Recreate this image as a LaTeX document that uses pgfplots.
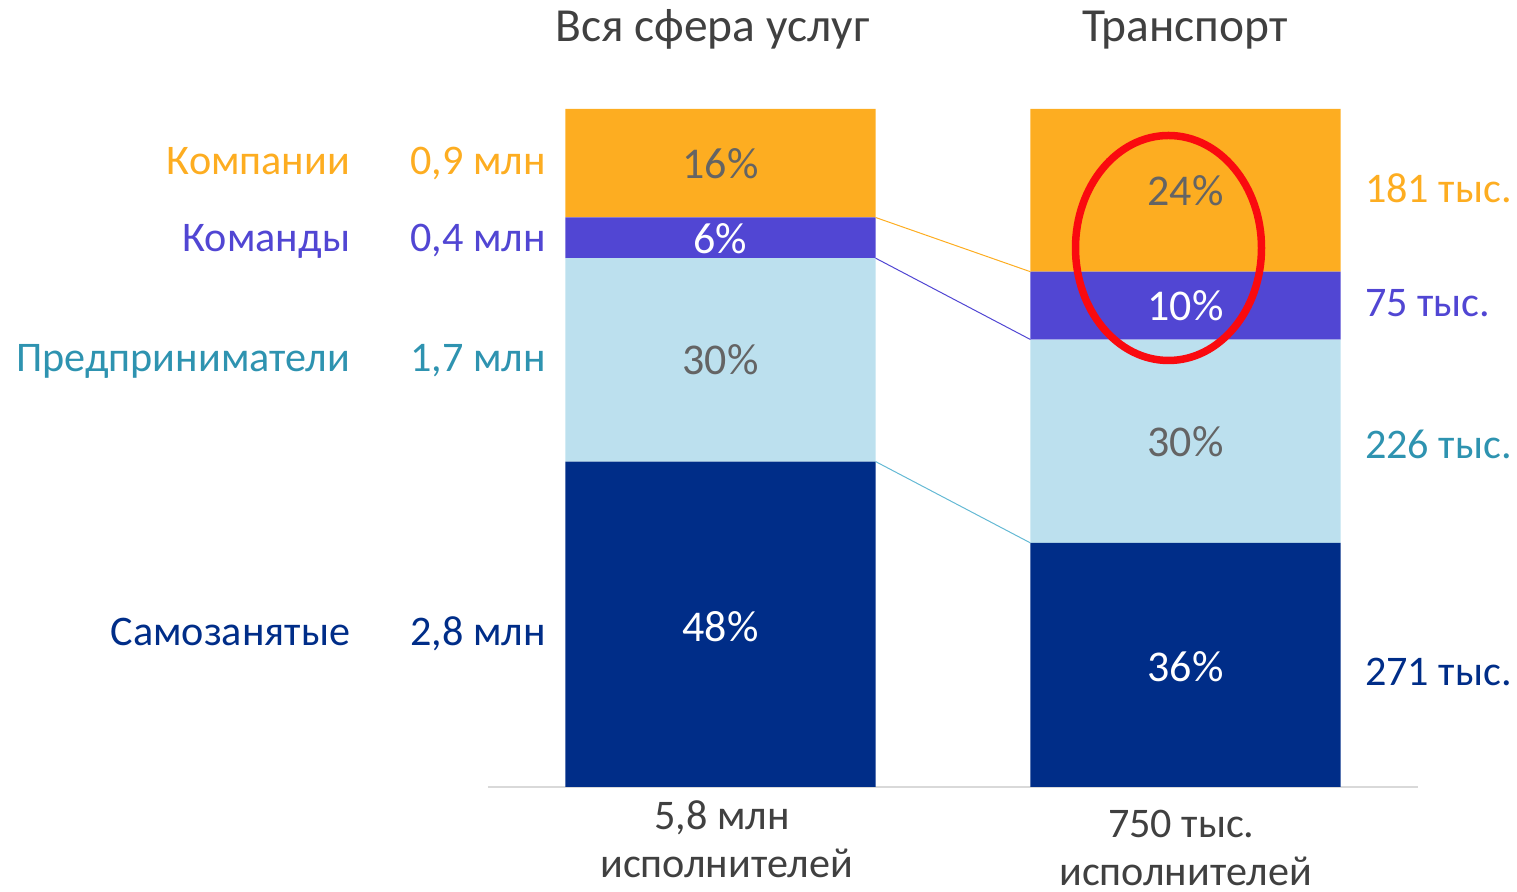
\documentclass[border=0pt]{standalone}
\usepackage{fontspec}
\setmainfont{Carlito}
\usepackage{pgfplots}
\pgfplotsset{compat=1.18}
\definecolor{corange}{RGB}{253,173,33}
\definecolor{cpurple}{RGB}{81,70,211}
\definecolor{clight}{RGB}{188,224,238}
\definecolor{cdark}{RGB}{0,45,136}
\definecolor{cteal}{RGB}{46,147,176}
\definecolor{cgraytxt}{RGB}{100,100,100}
\definecolor{ctitle}{RGB}{64,64,64}
\definecolor{cgrid}{RGB}{217,217,217}
\definecolor{cline}{RGB}{100,185,212}
\definecolor{cred}{RGB}{250,10,15}
\tikzset{
 lbl/.style={font=\fontsize{12pt}{14.4pt}\selectfont, inner sep=0pt},
 pct/.style={font=\fontsize{12.5pt}{15pt}\selectfont, anchor=base, inner sep=0pt},
 ttl/.style={font=\fontsize{13.5pt}{16pt}\selectfont, anchor=base, text=ctitle, inner sep=0pt},
}
\begin{document}
\begin{tikzpicture}
\useasboundingbox (-48.8mm,-10.5mm) rectangle (102.9mm,78.7mm);
\begin{axis}[at={(0,0)},anchor=south west,scale only axis,width=93mm,height=67.8mm,
 xmin=-0.5,xmax=1.5,ymin=0,ymax=100, ybar stacked, bar width=0.667,
 axis y line=none, axis x line=bottom, x axis line style={-,draw=cgrid,line width=0.25mm},
 xtick=\empty, ytick=\empty, clip=false,
]
\addplot[fill=cdark,draw=none] coordinates {(0,48) (1,36)};
\addplot[fill=clight,draw=none] coordinates {(0,30) (1,30)};
\addplot[fill=cpurple,draw=none] coordinates {(0,6) (1,10)};
\addplot[fill=corange,draw=none] coordinates {(0,16) (1,24)};
\end{axis}
\begin{axis}[at={(0,0)},anchor=south west,scale only axis,width=93mm,height=67.8mm,
 xmin=-0.5,xmax=1.5,ymin=0,ymax=100, hide axis, clip=false]
\addplot[corange,line width=0.1mm,mark=none] coordinates {(0.3335,84) (0.6665,76)};
\addplot[cpurple,line width=0.1mm,mark=none] coordinates {(0.3335,78) (0.6665,66)};
\addplot[cline,line width=0.1mm,mark=none] coordinates {(0.3335,48) (0.6665,36)};
% category labels
\node[lbl,anchor=base east,text=corange] at (axis cs:-0.795,90.41) {Компании};
\node[lbl,anchor=base east,text=cpurple] at (axis cs:-0.795,78.95) {Команды};
\node[lbl,anchor=base east,text=cteal] at (axis cs:-0.795,61.25) {Предприниматели};
\node[lbl,anchor=base east,text=cdark] at (axis cs:-0.795,20.94) {Самозанятые};
% left values
\node[lbl,anchor=base east,text=corange] at (axis cs:-0.3745,90.41) {0,9 млн};
\node[lbl,anchor=base east,text=cpurple] at (axis cs:-0.3745,78.95) {0,4 млн};
\node[lbl,anchor=base east,text=cteal] at (axis cs:-0.3745,61.25) {1,7 млн};
\node[lbl,anchor=base east,text=cdark] at (axis cs:-0.3745,20.94) {2,8 млн};
% right values
\node[lbl,anchor=base west,text=corange] at (axis cs:1.385,86.2) {181 тыс.};
\node[lbl,anchor=base west,text=cpurple] at (axis cs:1.385,69.4) {75 тыс.};
\node[lbl,anchor=base west,text=cteal] at (axis cs:1.385,48.4) {226 тыс.};
\node[lbl,anchor=base west,text=cdark] at (axis cs:1.385,14.9) {271 тыс.};
% in-bar percentages
\node[pct,text=cgraytxt] at (axis cs:0,89.7) {16\%};
\node[pct,text=white] at (axis cs:0,78.7) {6\%};
\node[pct,text=cgraytxt] at (axis cs:0,60.8) {30\%};
\node[pct,text=white] at (axis cs:0,21.5) {48\%};
\node[pct,text=cgraytxt] at (axis cs:1,85.8) {24\%};
\node[pct,text=white] at (axis cs:1,68.8) {10\%};
\node[pct,text=cgraytxt] at (axis cs:1,48.7) {30\%};
\node[pct,text=white] at (axis cs:1,15.6) {36\%};
% titles
\node[ttl] at (axis cs:-0.017,109.9) {Вся сфера услуг};
\node[ttl] at (axis cs:0.999,109.9) {Транспорт};
% bottom labels
\node[lbl,anchor=base,text=ctitle] at (axis cs:0.003,-6.2) {5,8 млн};
\node[lbl,anchor=base,text=ctitle] at (axis cs:0.013,-13.3) {исполнителей};
\node[lbl,anchor=base,text=ctitle] at (axis cs:0.991,-7.4) {750 тыс.};
\node[lbl,anchor=base,text=ctitle] at (axis cs:1.0,-14.6) {исполнителей};
\draw[cred,line width=0.75mm] (axis cs:0.9635,79.5) ellipse [x radius=9.3mm, y radius=11.25mm];
\end{axis}
\end{tikzpicture}
\end{document}
